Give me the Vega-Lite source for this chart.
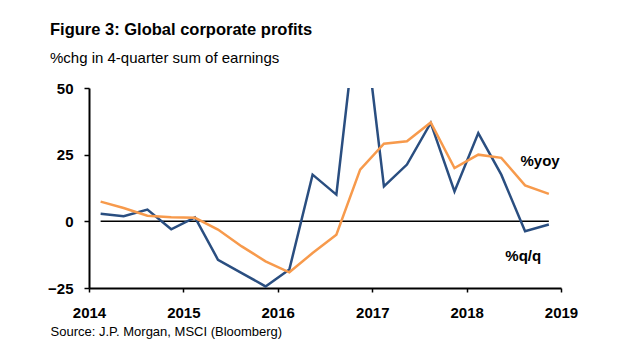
{
  "$schema": "https://vega.github.io/schema/vega-lite/v6.json",
  "width": 472,
  "height": 200,
  "autosize": {"type": "none"},
  "padding": {"left": 89, "top": 88, "right": 56, "bottom": 59},
  "background": "white",
  "config": {
    "font": "Liberation Sans",
    "view": {"stroke": null},
    "title": {"fontSize": 16.5, "fontWeight": "bold", "subtitleFontSize": 15}
  },
  "title": {
    "text": "Figure 3: Global corporate profits",
    "subtitle": "%chg in 4-quarter sum of earnings",
    "anchor": "start",
    "frame": "group",
    "dx": -39,
    "fontSize": 16.5,
    "fontWeight": "bold",
    "color": "black",
    "subtitleFontSize": 15,
    "subtitleColor": "black",
    "subtitlePadding": 13,
    "offset": 15,
    "font": "Liberation Sans",
    "subtitleFont": "Liberation Sans"
  },
  "datasets": {
    "profits": [
      {"date": "2014-02-15", "qq": 2.8, "yoy": 7.4},
      {"date": "2014-05-15", "qq": 1.9, "yoy": 5.0},
      {"date": "2014-08-15", "qq": 4.4, "yoy": 2.1},
      {"date": "2014-11-15", "qq": -3.0, "yoy": 1.5},
      {"date": "2015-02-15", "qq": 1.5, "yoy": 1.3},
      {"date": "2015-05-15", "qq": -14.4, "yoy": -3.1},
      {"date": "2015-08-15", "qq": -19.4, "yoy": -9.4},
      {"date": "2015-11-15", "qq": -24.4, "yoy": -15.0},
      {"date": "2016-02-15", "qq": -18.1, "yoy": -19.1},
      {"date": "2016-05-15", "qq": 17.5, "yoy": -11.9},
      {"date": "2016-08-15", "qq": 10.0, "yoy": -5.0},
      {"date": "2016-11-15", "qq": 88.0, "yoy": 19.4},
      {"date": "2017-02-15", "qq": 13.1, "yoy": 29.1},
      {"date": "2017-05-15", "qq": 21.3, "yoy": 30.0},
      {"date": "2017-08-15", "qq": 36.9, "yoy": 37.1},
      {"date": "2017-11-15", "qq": 11.2, "yoy": 20.0},
      {"date": "2018-02-15", "qq": 33.1, "yoy": 25.0},
      {"date": "2018-05-15", "qq": 17.5, "yoy": 23.8},
      {"date": "2018-08-15", "qq": -3.7, "yoy": 13.5},
      {"date": "2018-11-15", "qq": -1.2, "yoy": 10.3}
    ],
    "labels": [
      {"date": "2018-10-12", "value": 22.5, "label": "%yoy"},
      {"date": "2018-08-08", "value": -13.0, "label": "%q/q"}
    ]
  },
  "encoding": {
    "x": {
      "field": "date",
      "type": "temporal",
      "scale": {
        "type": "utc",
        "domain": [
          {"year": 2014, "month": 1, "date": 1, "utc": true},
          {"year": 2019, "month": 1, "date": 1, "utc": true}
        ]
      },
      "axis": {
        "values": [
          {"year": 2014, "month": 1, "date": 1, "utc": true},
          {"year": 2015, "month": 1, "date": 1, "utc": true},
          {"year": 2016, "month": 1, "date": 1, "utc": true},
          {"year": 2017, "month": 1, "date": 1, "utc": true},
          {"year": 2018, "month": 1, "date": 1, "utc": true},
          {"year": 2019, "month": 1, "date": 1, "utc": true}
        ],
        "format": "%Y",
        "grid": false,
        "labelFont": "Liberation Sans",
        "labelFontSize": 15,
        "labelFontWeight": "bold",
        "labelColor": "black",
        "labelPadding": 13,
        "labelFlush": false,
        "labelOverlap": false,
        "tickSize": 4,
        "tickColor": "black",
        "tickWidth": 1.5,
        "domainColor": "black",
        "domainWidth": 2,
        "title": "Source: J.P. Morgan, MSCI (Bloomberg)",
        "titleAnchor": "start",
        "titleAlign": "left",
        "titleX": -39,
        "titleY": 47,
        "titleBaseline": "alphabetic",
        "titleFont": "Liberation Sans",
        "titleFontSize": 13,
        "titleFontWeight": "normal",
        "titleColor": "black"
      }
    }
  },
  "layer": [
    {
      "data": {"name": "profits"},
      "mark": {"type": "line", "color": "black", "strokeWidth": 1.5},
      "encoding": {
        "y": {
          "datum": 0,
          "type": "quantitative",
          "scale": {"domain": [-25, 50], "nice": false, "zero": false},
          "axis": {
            "values": [-25, 0, 25, 50],
            "grid": false,
            "title": null,
            "labelFont": "Liberation Sans",
            "labelFontSize": 15,
            "labelFontWeight": "bold",
            "labelColor": "black",
            "labelPadding": 11,
            "tickSize": 5,
            "tickColor": "black",
            "tickWidth": 1.5,
            "domainColor": "black",
            "domainWidth": 2
          }
        }
      }
    },
    {
      "data": {"name": "profits"},
      "mark": {"type": "line", "color": "#2A4E80", "strokeWidth": 2.5, "clip": true},
      "encoding": {"y": {"field": "qq", "type": "quantitative"}}
    },
    {
      "data": {"name": "profits"},
      "mark": {"type": "line", "color": "#F79A4C", "strokeWidth": 2.5, "clip": true},
      "encoding": {"y": {"field": "yoy", "type": "quantitative"}}
    },
    {
      "data": {"name": "labels"},
      "mark": {"type": "text", "font": "Liberation Sans", "fontSize": 15, "fontWeight": "bold", "color": "black", "align": "center", "baseline": "middle"},
      "encoding": {
        "y": {"field": "value", "type": "quantitative"},
        "text": {"field": "label"}
      }
    }
  ]
}
